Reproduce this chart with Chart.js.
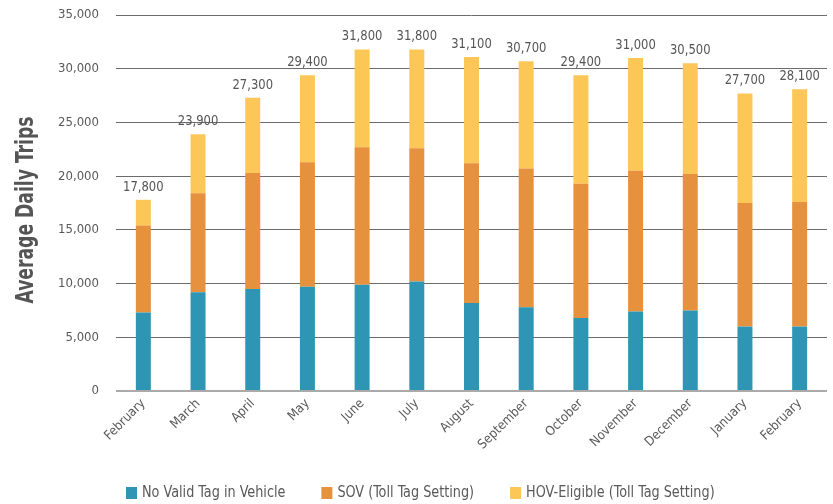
<!DOCTYPE html>
<html>
<head>
<meta charset="utf-8">
<script src="https://cdn.jsdelivr.net/npm/chart.js@4.4.1/dist/chart.umd.min.js"></script>
<style>
  html, body { margin: 0; padding: 0; background: #fff; }
  #wrap { width: 833px; height: 504px; position: relative; }
</style>
</head>
<body>
<div id="wrap"><canvas id="c" width="833" height="504"></canvas></div>
<script>
const months = ["February","March","April","May","June","July","August","September","October","November","December","January","February"];
const noValidTag = [7300, 9200, 9500, 9700, 9900, 10200, 8200, 7800, 6800, 7400, 7500, 6000, 6000];
const sovToll    = [8100, 9200, 10800, 11600, 12800, 12400, 13000, 12900, 12500, 13100, 12700, 11500, 11600];
const hovToll    = [2400, 5500, 7000, 8100, 9100, 9200, 9900, 10000, 10100, 10500, 10300, 10200, 10500];
const seriesNames = ["No Valid Tag in Vehicle", "SOV (Toll Tag Setting)", "HOV-Eligible (Toll Tag Setting)"];
const yTicks = [0, 5000, 10000, 15000, 20000, 25000, 30000, 35000];
const yTitle = "Average Daily Trips";

const FONT = "'Liberation Sans Narrow', 'Arial Narrow', 'DejaVu Sans Condensed', sans-serif";
const TEXT = '#595959';
const colors = ['#2E96B4', '#E6913D', '#FDC757'];
const fmt = v => v.toLocaleString('en-US');

function condensedText(ctx, text, x, y, sx) {
  ctx.save();
  ctx.translate(x, y);
  ctx.scale(sx, 1);
  ctx.fillText(text, 0, 0);
  ctx.restore();
}

const totalsPlugin = {
  id: 'totals',
  afterDatasetsDraw(chart) {
    const ctx = chart.ctx;
    const top = chart.getDatasetMeta(chart.data.datasets.length - 1);
    ctx.save();
    ctx.font = '14px ' + FONT;
    ctx.fillStyle = '#555';
    ctx.textAlign = 'center';
    ctx.textBaseline = 'alphabetic';
    top.data.forEach((bar, i) => {
      const total = chart.data.datasets.reduce((s, d) => s + d.data[i], 0);
      condensedText(ctx, fmt(total), bar.x, bar.y - 9, 0.92);
    });
    ctx.restore();
  }
};

const titlePlugin = {
  id: 'yTitle',
  afterDraw(chart) {
    const ctx = chart.ctx;
    ctx.save();
    ctx.font = 'bold 24px ' + FONT;
    ctx.fillStyle = '#555';
    ctx.textAlign = 'center';
    ctx.textBaseline = 'alphabetic';
    ctx.translate(33, 210);
    ctx.rotate(-Math.PI / 2);
    const w = ctx.measureText(yTitle).width;
    ctx.scale(187 / w, 1);
    ctx.fillText(yTitle, 0, 0);
    ctx.restore();
  }
};

const legendPlugin = {
  id: 'customLegend',
  afterDraw(chart) {
    const ctx = chart.ctx;
    ctx.save();
    ctx.font = '15px ' + FONT;
    ctx.textBaseline = 'middle';
    ctx.textAlign = 'left';
    const sx = 0.95;
    let x = 126;
    const y = 493;
    chart.data.datasets.forEach(ds => {
      ctx.fillStyle = ds.backgroundColor;
      ctx.fillRect(x, y - 6, 11, 12);
      ctx.fillStyle = TEXT;
      condensedText(ctx, ds.label, x + 16, y, sx);
      x += 16 + ctx.measureText(ds.label).width * sx + 36;
    });
    ctx.restore();
  }
};

new Chart(document.getElementById('c'), {
  type: 'bar',
  data: {
    labels: months,
    datasets: [
      { label: seriesNames[0], data: noValidTag, backgroundColor: colors[0] },
      { label: seriesNames[1], data: sovToll, backgroundColor: colors[1] },
      { label: seriesNames[2], data: hovToll, backgroundColor: colors[2] }
    ]
  },
  options: {
    responsive: false,
    animation: false,
    devicePixelRatio: 1,
    layout: { padding: { top: 15, right: 6, left: 0, bottom: 0 } },
    datasets: { bar: { categoryPercentage: 1, barPercentage: 0.274 } },
    plugins: { legend: { display: false }, tooltip: { enabled: false } },
    scales: {
      x: {
        stacked: true,
        grid: { display: false },
        border: { display: false },
        ticks: { color: TEXT, font: { family: FONT, size: 13 }, maxRotation: 45, minRotation: 45, padding: -3 },
        afterFit(s) { s.height = 113; }
      },
      y: {
        stacked: true,
        min: 0, max: 35000,
        afterBuildTicks(s) { s.ticks = yTicks.map(v => ({ value: v })); },
        grid: {
          color: c => c.tick && c.tick.value === 0 ? '#aaa' : '#6b6b6b',
          lineWidth: c => c.tick && c.tick.value === 0 ? 2 : 1,
          drawTicks: false
        },
        border: { display: false },
        ticks: { color: TEXT, font: { family: FONT, size: 13 }, padding: 17, callback: v => fmt(v) },
        title: { display: false, text: yTitle },
        afterFit(s) { s.width = 116; s.paddingTop = 0; s.paddingBottom = 0; }
      }
    }
  },
  plugins: [totalsPlugin, titlePlugin, legendPlugin]
});
</script>
</body>
</html>
